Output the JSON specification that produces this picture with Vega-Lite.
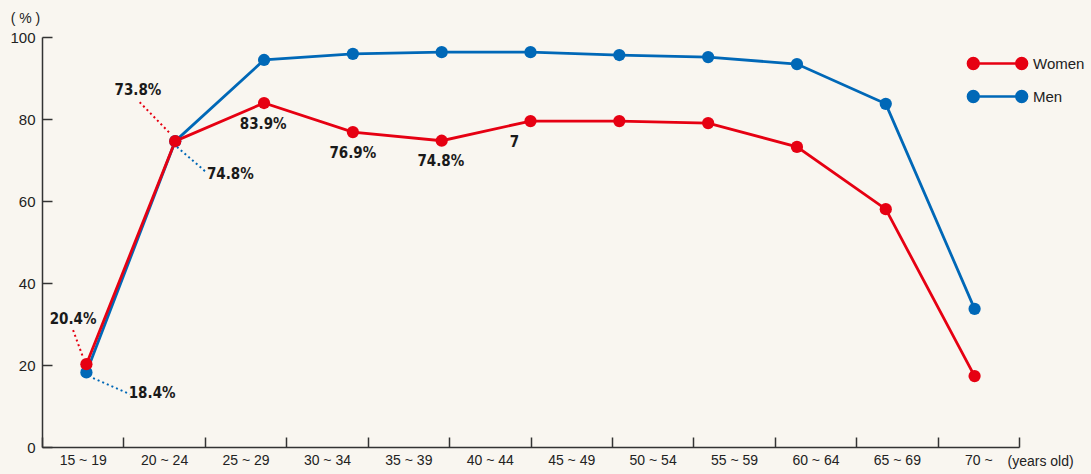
{
  "$schema": "https://vega.github.io/schema/vega-lite/v6.json",
  "width": 977,
  "height": 410,
  "autosize": {"type": "none"},
  "padding": {"left": 42, "top": 37, "right": 72, "bottom": 27},
  "background": "#f9f6f0",
  "config": {"view": {"stroke": null}, "font": "Liberation Sans"},
  "datasets": {
    "ages": [
      {"age": "15 ~ 19"}, {"age": "20 ~ 24"}, {"age": "25 ~ 29"}, {"age": "30 ~ 34"},
      {"age": "35 ~ 39"}, {"age": "40 ~ 44"}, {"age": "45 ~ 49"}, {"age": "50 ~ 54"},
      {"age": "55 ~ 59"}, {"age": "60 ~ 64"}, {"age": "65 ~ 69"}, {"age": "70 ~"}
    ],
    "series": [
      {"sex": "Men", "i": 0, "v": 18.2},
      {"sex": "Men", "i": 1, "v": 74.6},
      {"sex": "Men", "i": 2, "v": 94.4},
      {"sex": "Men", "i": 3, "v": 95.9},
      {"sex": "Men", "i": 4, "v": 96.3},
      {"sex": "Men", "i": 5, "v": 96.3},
      {"sex": "Men", "i": 6, "v": 95.6},
      {"sex": "Men", "i": 7, "v": 95.1},
      {"sex": "Men", "i": 8, "v": 93.4},
      {"sex": "Men", "i": 9, "v": 83.7},
      {"sex": "Men", "i": 10, "v": 33.7},
      {"sex": "Women", "i": 0, "v": 20.2},
      {"sex": "Women", "i": 1, "v": 74.6},
      {"sex": "Women", "i": 2, "v": 83.9},
      {"sex": "Women", "i": 3, "v": 76.8},
      {"sex": "Women", "i": 4, "v": 74.7},
      {"sex": "Women", "i": 5, "v": 79.5},
      {"sex": "Women", "i": 6, "v": 79.5},
      {"sex": "Women", "i": 7, "v": 79.0},
      {"sex": "Women", "i": 8, "v": 73.2},
      {"sex": "Women", "i": 9, "v": 58.0},
      {"sex": "Women", "i": 10, "v": 17.3}
    ],
    "labels": [
      {"label": "73.8%", "li": 0.58, "ly": 87.1},
      {"label": "74.8%", "li": 1.62, "ly": 66.6},
      {"label": "83.9%", "li": 1.99, "ly": 78.8},
      {"label": "76.9%", "li": 3.0, "ly": 71.7},
      {"label": "74.8%", "li": 3.99, "ly": 69.8},
      {"label": "7", "li": 4.82, "ly": 74.4},
      {"label": "20.4%", "li": -0.15, "ly": 31.2},
      {"label": "18.4%", "li": 0.74, "ly": 13.2}
    ],
    "leaders": [
      {"sex": "Women", "i1": 0.6, "y1": 84.1, "i2": 0.95, "y2": 76.3},
      {"sex": "Men", "i1": 1.02, "y1": 73.2, "i2": 1.36, "y2": 66.8},
      {"sex": "Women", "i1": -0.15, "y1": 28.5, "i2": -0.04, "y2": 22.0},
      {"sex": "Men", "i1": 0.075, "y1": 16.8, "i2": 0.49, "y2": 12.9}
    ]
  },
  "layer": [
    {
      "data": {"name": "ages"},
      "mark": {"type": "text", "text": "", "opacity": 0},
      "encoding": {
        "x": {
          "field": "age", "type": "ordinal", "sort": null,
          "scale": {"type": "band", "paddingInner": 0, "paddingOuter": 0},
          "axis": {
            "title": "(years old)", "titleX": 965, "titleY": 14, "titleAlign": "left",
            "titleAnchor": "start", "titleBaseline": "middle", "titleFontSize": 14,
            "titleFontWeight": "normal", "titleColor": "#222", "titleFont": "Liberation Sans",
            "labelAngle": 0, "tickBand": "extent", "tickSize": -10, "tickColor": "#333",
            "tickWidth": 1.5, "domainColor": "#333", "domainWidth": 1.5,
            "labelFontSize": 14, "labelColor": "#222", "labelPadding": 16,
            "labelFont": "Liberation Sans"
          }
        }
      }
    },
    {
      "layer": [
        {
          "data": {"name": "series"},
          "mark": {"type": "line", "strokeWidth": 2.8},
          "encoding": {
            "x": {"field": "i", "type": "quantitative", "scale": {"domain": [-0.5, 10.5]}, "axis": null},
            "y": {
              "field": "v", "type": "quantitative", "scale": {"domain": [0, 100]},
              "axis": {
                "title": "( % )", "titleAngle": 0, "titleX": -17, "titleY": -19,
                "titleAlign": "center", "titleBaseline": "middle", "titleFontSize": 14,
                "titleFontWeight": "normal", "titleColor": "#222", "titleFont": "Liberation Sans",
                "values": [0, 20, 40, 60, 80, 100], "grid": false,
                "domainColor": "#333", "domainWidth": 1.5, "tickColor": "#333", "tickWidth": 1.5,
                "tickSize": -10, "labelFontSize": 15, "labelColor": "#222", "labelPadding": 17,
                "labelFont": "Liberation Sans"
              }
            },
            "color": {
              "field": "sex", "type": "nominal",
              "scale": {"domain": ["Women", "Men"], "range": ["#e60012", "#0068b7"]},
              "legend": {
                "title": null, "orient": "none", "legendX": 944, "legendY": 15, "padding": 0,
                "symbolSize": 400, "symbolStrokeWidth": 2.5,
                "symbolType": "M-2.42,0L2.42,0M-2.96,0A0.54,0.54 0 1,0 -1.88,0A0.54,0.54 0 1,0 -2.96,0ZM1.88,0A0.54,0.54 0 1,0 2.96,0A0.54,0.54 0 1,0 1.88,0Z",
                "labelOffset": 24, "rowPadding": 11, "labelFontSize": 15, "labelColor": "#222",
                "labelFont": "Liberation Sans"
              }
            }
          }
        },
        {
          "data": {"name": "series"},
          "mark": {"type": "circle", "size": 150, "opacity": 1},
          "encoding": {
            "x": {"field": "i", "type": "quantitative", "scale": {"domain": [-0.5, 10.5]}, "axis": null},
            "y": {"field": "v", "type": "quantitative", "scale": {"domain": [0, 100]}},
            "color": {"field": "sex", "type": "nominal", "scale": {"domain": ["Women", "Men"], "range": ["#e60012", "#0068b7"]}}
          }
        },
        {
          "data": {"name": "leaders"},
          "mark": {"type": "rule", "strokeDash": [2, 3], "strokeWidth": 2},
          "encoding": {
            "x": {"field": "i1", "type": "quantitative", "scale": {"domain": [-0.5, 10.5]}, "axis": null},
            "y": {"field": "y1", "type": "quantitative", "scale": {"domain": [0, 100]}},
            "x2": {"field": "i2"},
            "y2": {"field": "y2"},
            "color": {"field": "sex", "type": "nominal", "scale": {"domain": ["Women", "Men"], "range": ["#e60012", "#0068b7"]}}
          }
        },
        {
          "data": {"name": "labels"},
          "mark": {"type": "text", "font": "DejaVu Sans Condensed, Roboto Condensed, Roboto, sans-serif", "fontWeight": "bold", "fontSize": 15, "color": "#1a1a1a"},
          "encoding": {
            "x": {"field": "li", "type": "quantitative", "scale": {"domain": [-0.5, 10.5]}, "axis": null},
            "y": {"field": "ly", "type": "quantitative", "scale": {"domain": [0, 100]}},
            "text": {"field": "label"}
          }
        }
      ]
    }
  ],
  "resolve": {"scale": {"x": "independent"}, "axis": {"x": "independent"}}
}
